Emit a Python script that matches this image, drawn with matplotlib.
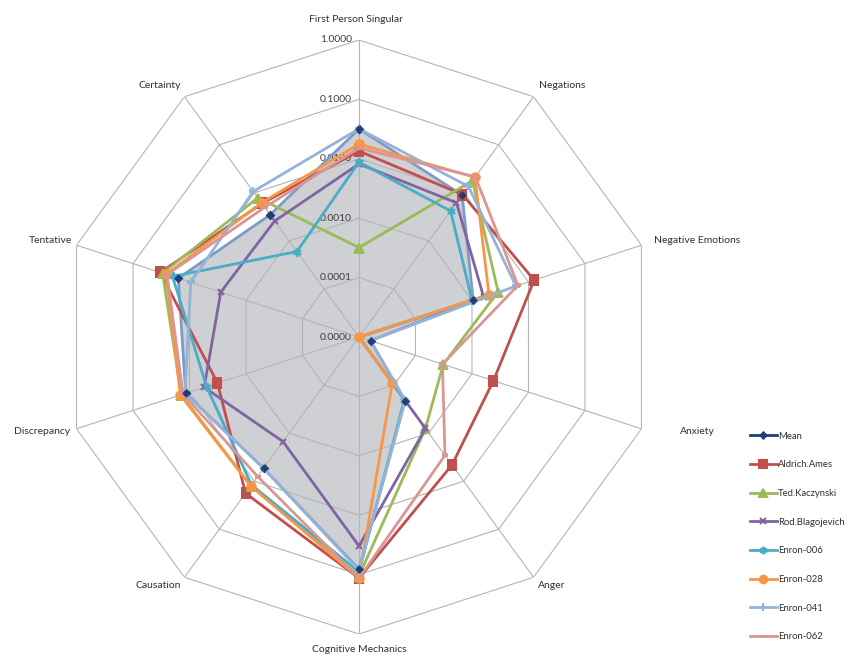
import numpy as np
import matplotlib
matplotlib.use("Agg")
import matplotlib.pyplot as plt
from matplotlib.lines import Line2D

plt.rcParams["font.family"] = ["Lato", "DejaVu Sans"]

categories = ["First Person Singular", "Negations", "Negative Emotions", "Anxiety", "Anger",
              "Cognitive Mechanics", "Causation", "Discrepancy", "Tentative", "Certainty"]
tick_values = [0.00001, 0.0001, 0.001, 0.01, 0.1, 1.0]
tick_labels = ["0.0000", "0.0001", "0.0010", "0.0100", "0.1000", "1.0000"]

mean_vals     = [0.0318, 0.0090, 0.00105, 0.000016, 0.00021, 0.081, 0.0054, 0.0117, 0.0158, 0.0035]
ames_vals     = [0.0135, 0.0092, 0.0126, 0.0024, 0.0046, 0.115, 0.0178, 0.0032, 0.033, 0.0060]
ted_vals      = [0.00032, 0.0178, 0.0029, 0.00031, 0.0008, 0.105, 0.0125, 0.0140, 0.030, 0.0079]
rod_vals      = [0.0082, 0.0062, 0.0016, 0.0, 0.0008, 0.033, 0.0015, 0.0055, 0.0028, 0.0026]
enron006_vals = [0.0088, 0.0042, 0.0010, 0.0, 0.0002, 0.090, 0.0120, 0.0050, 0.020, 0.0006]
enron028_vals = [0.0177, 0.0210, 0.0020, 0.0, 0.00009, 0.115, 0.0126, 0.0145, 0.026, 0.0062]
enron041_vals = [0.0320, 0.0136, 0.0060, 0.000016, 0.00021, 0.085, 0.0054, 0.0120, 0.0095, 0.0107]
enron062_vals = [0.0152, 0.0215, 0.0065, 0.0003, 0.0029, 0.115, 0.0080, 0.0130, 0.025, 0.0050]

series = [
    ("Mean", mean_vals, "#1F3F77", "D", 3.5),
    ("Aldrich.Ames", ames_vals, "#C0504D", "s", 6),
    ("Ted.Kaczynski", ted_vals, "#9BBB59", "^", 6),
    ("Rod.Blagojevich", rod_vals, "#8064A2", "x", 5),
    ("Enron-006", enron006_vals, "#4BACC6", (6, 2, 0), 6),
    ("Enron-028", enron028_vals, "#F79646", "o", 6),
    ("Enron-041", enron041_vals, "#95B3D7", "+", 6),
    ("Enron-062", enron062_vals, "#D99694", "_", 5),
]

W, H = 848, 663
cx, cy, R = 359, 337, 297
fig = plt.figure(figsize=(W / 100, H / 100), dpi=100)
ax = fig.add_axes([(cx - R) / W, (H - cy - R) / H, 2 * R / W, 2 * R / H], projection="polar")
ax.set_theta_zero_location("N")
ax.set_theta_direction(-1)
ax.set_rscale("log")
ax.set_rlim(tick_values[0], tick_values[-1])
ax.grid(False)
ax.spines["polar"].set_visible(False)
ax.set_xticks([])
ax.set_yticks([])
ax.patch.set_alpha(0)

n = len(categories)
theta = np.arange(n) * 2 * np.pi / n
theta_c = np.append(theta, theta[0])

# grid
for t in tick_values[1:]:
    ax.plot(theta_c, [t] * (n + 1), color="#b4b4b4", lw=0.8, zorder=2)
for th in theta:
    ax.plot([th, th], [tick_values[0], tick_values[-1]], color="#b4b4b4", lw=0.8, zorder=2)

def closed(v):
    v = np.maximum(np.asarray(v, float), tick_values[0])
    return np.append(v, v[0])

# grey area under the Mean series
ax.fill(theta_c, closed(mean_vals), color="#cfd0d3", zorder=1, lw=0)

handles = []
for i, (name, vals, col, mk, ms) in enumerate(series):
    line_col = "#7d9bc8" if name == "Mean" else col
    ax.plot(theta_c, closed(vals), color=line_col, lw=2.0, marker=mk, ms=ms, mew=1.5,
            mfc=col, mec=col, zorder=3 + i)
    handles.append(Line2D([], [], color=col, lw=2.0, marker=mk, ms=ms * 0.9, mew=1.5, label=name))
# Mean markers on top
ax.plot(theta, np.maximum(mean_vals, tick_values[0]), ls="none", marker="D", ms=3.5,
        color="#1F3F77", zorder=20)

for t, lab in zip(tick_values, tick_labels):
    ax.annotate(lab, xy=(0, t), xytext=(-5, 0), textcoords="offset points",
                ha="right", va="center", fontsize=7.5, color="#404040", zorder=1.5)

label_pos = [(356, 20), (562, 85), (697, 240), (697, 432), (552, 585),
             (359, 649), (158, 585), (42, 432), (50, 240), (160, 85)]
for name, (px, py) in zip(categories, label_pos):
    fig.text(px / W, 1 - py / H, name, ha="center", va="center", fontsize=7.5, color="#303030")

leg = fig.legend(handles=handles, loc="upper left", bbox_to_anchor=(746 / W, 1 - 428 / H),
                 frameon=False, fontsize=6.8, labelspacing=2.08, handlelength=2.9,
                 handletextpad=0.1, borderaxespad=0)
for txt in leg.get_texts():
    txt.set_color("#303030")

fig.savefig("out.png", dpi=100, facecolor="white")
